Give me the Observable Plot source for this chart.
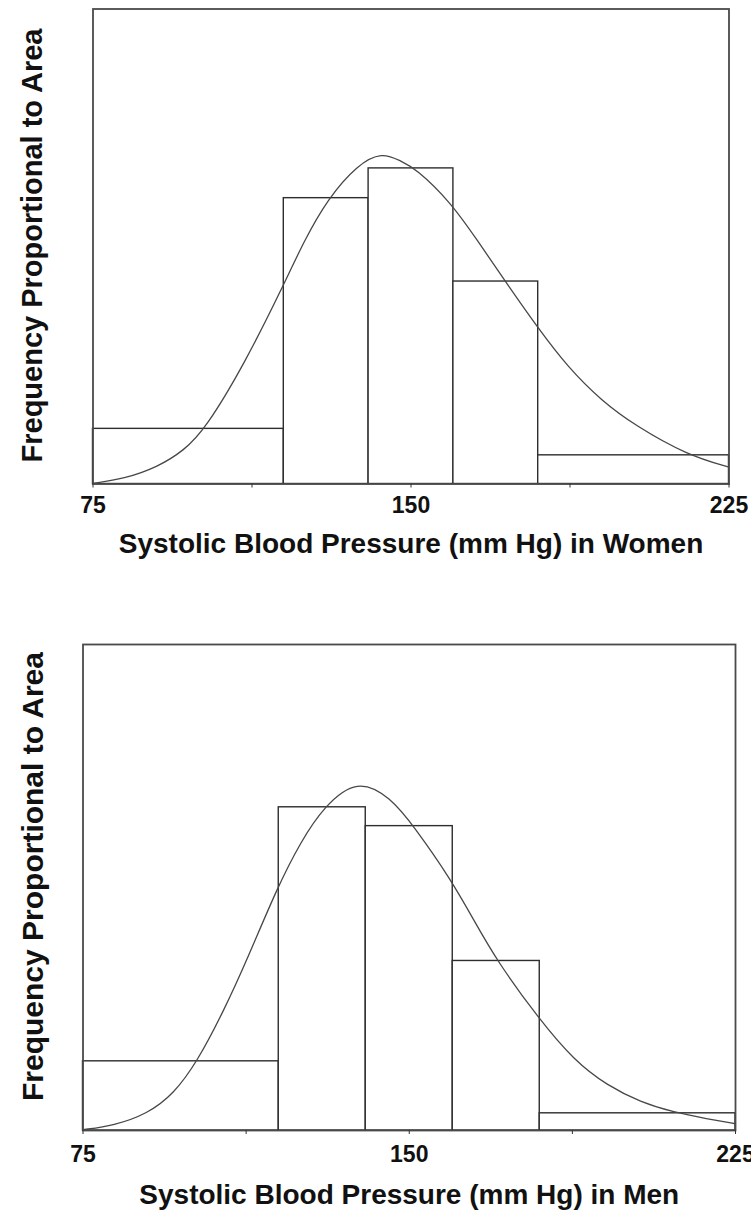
<!DOCTYPE html>
<html>
<head>
<meta charset="utf-8">
<script src="https://cdn.jsdelivr.net/npm/d3@7"></script>
<script src="https://cdn.jsdelivr.net/npm/@observablehq/plot@0.6"></script>
<style>
  body { margin: 0; background: #ffffff; }
  #charts svg { display: block; }
</style>
</head>
<body>
<div id="charts"></div>
<script>
// Histogram bins of systolic blood pressure (mm Hg)
const binLower = [75, 120, 140, 160, 180];
const binUpper = [120, 140, 160, 180, 225];

// Percentage of subjects falling in each bin
const womenPercent = [12.5, 28.8, 31.8, 20.4, 6.5];
const menPercent = [15.7, 32.6, 30.7, 17.1, 3.9];

// Fitted density curves (percent per mm Hg)
const womenCurveBP = [75, 82.3, 90.2, 96.5, 101.5, 110.7, 119.7, 124.8, 130.3, 137.4, 143.2, 147.5, 151.1, 159.4, 165.7, 172.4, 179.8, 187.0, 194.9, 202.8, 215.3, 225];
const womenCurveDensity = [0.003, 0.026, 0.085, 0.169, 0.278, 0.604, 0.991, 1.226, 1.435, 1.610, 1.672, 1.628, 1.590, 1.419, 1.226, 1.016, 0.790, 0.588, 0.420, 0.295, 0.144, 0.085];

const menCurveBP = [75, 82.1, 89.8, 95.9, 101.3, 107.4, 112.8, 119.7, 125.0, 130.4, 138.1, 145.7, 151.1, 159.5, 164.9, 170.2, 179.8, 187.9, 195.5, 203.2, 210.8, 218.5, 225];
const menCurveDensity = [0.004, 0.025, 0.084, 0.185, 0.349, 0.605, 0.866, 1.227, 1.454, 1.635, 1.775, 1.680, 1.533, 1.269, 1.059, 0.854, 0.563, 0.353, 0.227, 0.143, 0.092, 0.059, 0.034];

// Axis ticks and the subset that carries a label
const axisTicks = [75, 112.5, 150, 187.5, 225];
const axisLabels = [75, 150, 225];

const yTitle = "Frequency Proportional to Area";
const font = "'Liberation Sans', Arial, Helvetica, sans-serif";

function histogramPanel({percent, curveBP, curveDensity, xTitle, yMax, height,
                         marginTop, marginBottom, marginLeft, marginRight,
                         tickPadding, xTitleDy, yTitleDx, yTitleDy, yTitleSize}) {
  // density = share of subjects / bin width, so each bar's area is its frequency
  const bins = binLower.map((lo, i) => ({
    lo, hi: binUpper[i], density: percent[i] / (binUpper[i] - lo)
  }));
  const curve = curveBP.map((bp, i) => ({bp, density: curveDensity[i]}));

  return Plot.plot({
    width: 751,
    height,
    marginTop, marginBottom, marginLeft, marginRight,
    style: {fontFamily: font, background: "#ffffff", color: "#111"},
    x: {domain: [75, 225]},
    y: {domain: [0, yMax], axis: null},
    marks: [
      Plot.rectY(bins, {x1: "lo", x2: "hi", y: "density",
        fill: "#ffffff", stroke: "#2e2e2e", strokeWidth: 1.4}),
      Plot.line(curve, {x: "bp", y: "density", curve: "basis",
        stroke: "#474747", strokeWidth: 1.3}),
      Plot.frame({stroke: "#4a4a4a", strokeWidth: 1.8}),
      Plot.axisX({
        ticks: axisTicks,
        tickSize: 4,
        tickPadding,
        stroke: "#333",
        tickFormat: d => axisLabels.includes(d) ? String(d) : "",
        fontSize: 23,
        fontWeight: "bold",
        fill: "#111",
        label: null
      }),
      Plot.text([xTitle], {frameAnchor: "bottom", lineAnchor: "middle",
        textAnchor: "middle", dy: xTitleDy,
        fontSize: 28, fontWeight: "bold", fill: "#111"}),
      Plot.text([yTitle], {frameAnchor: "left", textAnchor: "middle",
        lineAnchor: "middle", rotate: -90,
        dx: yTitleDx, dy: yTitleDy,
        fontSize: yTitleSize, fontWeight: "bold", fill: "#111"})
    ]
  });
}

const root = document.getElementById("charts");

root.appendChild(histogramPanel({
  percent: womenPercent,
  curveBP: womenCurveBP,
  curveDensity: womenCurveDensity,
  xTitle: "Systolic Blood Pressure (mm Hg) in Women",
  yMax: 2.393,
  height: 600,
  marginTop: 8.5, marginBottom: 116.5, marginLeft: 92.5, marginRight: 22.5,
  tickPadding: 9,
  xTitleDy: 60,
  yTitleDx: -60,
  yTitleDy: -1,
  yTitleSize: 29
}));

root.appendChild(histogramPanel({
  percent: menPercent,
  curveBP: menCurveBP,
  curveDensity: menCurveDensity,
  xTitle: "Systolic Blood Pressure (mm Hg) in Men",
  yMax: 2.451,
  height: 613,
  marginTop: 44, marginBottom: 83, marginLeft: 82.5, marginRight: 16,
  tickPadding: 11,
  xTitleDy: 65,
  yTitleDx: -50,
  yTitleDy: -11,
  yTitleSize: 30
}));
</script>
</body>
</html>
